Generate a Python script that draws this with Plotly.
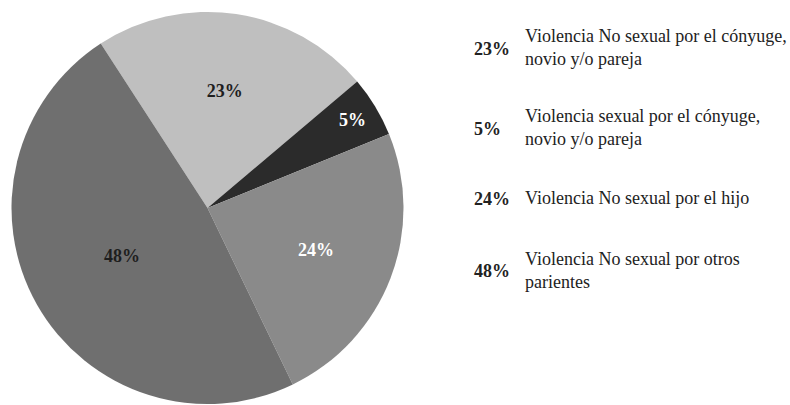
import textwrap
import plotly.graph_objects as go

# Distribution of reported violence by type of aggressor (percent)
categorias = [
    "Violencia No sexual por el cónyuge, novio y/o pareja",
    "Violencia sexual por el cónyuge, novio y/o pareja",
    "Violencia No sexual por el hijo",
    "Violencia No sexual por otros parientes",
]
porcentajes = [23, 5, 24, 48]

colores = ["#bfbfbf", "#2b2b2b", "#8a8a8a", "#6f6f6f"]
color_texto = ["#1e1e1e", "#ffffff", "#ffffff", "#1e1e1e"]

W, H = 790, 405
SERIF = "Liberation Serif"

fig = go.Figure(
    go.Pie(
        labels=categorias,
        values=porcentajes,
        sort=False,
        direction="clockwise",
        rotation=-33,
        marker=dict(colors=colores, line=dict(width=0)),
        texttemplate="%{value}%",
        textposition="inside",
        insidetextorientation="horizontal",
        textfont=dict(family=SERIF, size=18, color=color_texto, weight=600),
        hoverinfo="skip",
        showlegend=False,
        domain=dict(x=[10 / W, 405 / W], y=[1 - 404 / H, 1 - 12 / H]),
    )
)

# Text legend at the right: heavy percentage followed by the wrapped category name
legend_y = [49, 129, 199, 271]
annotations = []
for cat, pct, yy in zip(categorias, porcentajes, legend_y):
    annotations.append(dict(
        x=472 / W, y=1 - yy / H, xref="paper", yref="paper",
        xanchor="left", yanchor="middle", showarrow=False,
        text=f"{pct}%",
        font=dict(family=SERIF, size=18, color="#222222", weight=600),
    ))
    annotations.append(dict(
        x=523 / W, y=1 - (yy - 1) / H, xref="paper", yref="paper",
        xanchor="left", yanchor="middle", align="left", showarrow=False,
        text="<br>".join(textwrap.wrap(cat, 35)),
        font=dict(family=SERIF, size=18, color="#222222"),
    ))

fig.update_layout(
    width=W, height=H,
    margin=dict(l=0, r=0, t=0, b=0),
    paper_bgcolor="white", plot_bgcolor="white",
    annotations=annotations,
    hovermode=False,
)

fig.write_html("out.html", config=dict(displayModeBar=False))
